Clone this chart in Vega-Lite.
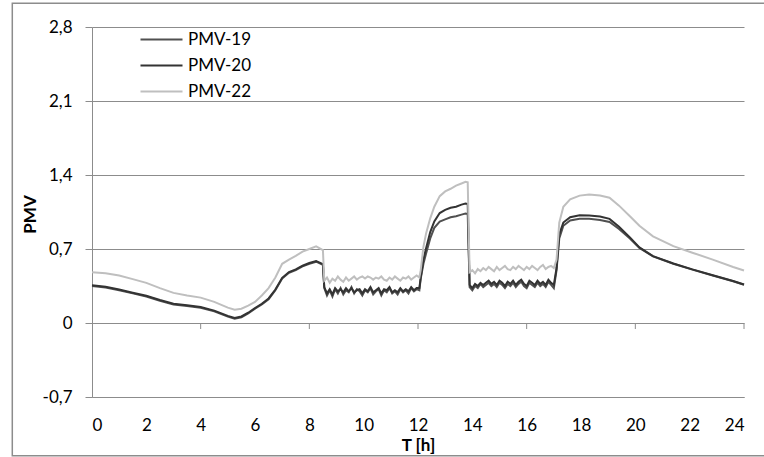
{
  "$schema": "https://vega.github.io/schema/vega-lite/v6.json",
  "width": 652,
  "height": 370,
  "autosize": {"type": "none"},
  "padding": {"left": 92, "top": 27, "right": 20, "bottom": 60},
  "background": "white",
  "config": {"view": {"stroke": null}, "font": "Lato"},
  "layer": [
    {
      "data": {"values": [{"id": 1}]},
      "mark": {"type": "rect", "fill": "white", "fillOpacity": 0, "stroke": "#8c8c8c", "strokeWidth": 1.5, "clip": false},
      "encoding": {
        "x": {"datum": -2.934, "type": "quantitative"},
        "x2": {"datum": 25.5},
        "y": {"datum": 3.025, "type": "quantitative"},
        "y2": {"datum": -1.255}
      }
    },
    {
      "data": {"values": [
        {"t": 0, "PMV-19": 0.35, "PMV-20": 0.357, "PMV-22": 0.48},
        {"t": 0.5, "PMV-19": 0.335, "PMV-20": 0.342, "PMV-22": 0.47},
        {"t": 1, "PMV-19": 0.31, "PMV-20": 0.317, "PMV-22": 0.45},
        {"t": 1.5, "PMV-19": 0.28, "PMV-20": 0.287, "PMV-22": 0.415},
        {"t": 2, "PMV-19": 0.25, "PMV-20": 0.257, "PMV-22": 0.38},
        {"t": 2.5, "PMV-19": 0.21, "PMV-20": 0.217, "PMV-22": 0.33},
        {"t": 3, "PMV-19": 0.175, "PMV-20": 0.182, "PMV-22": 0.285},
        {"t": 3.5, "PMV-19": 0.16, "PMV-20": 0.167, "PMV-22": 0.26},
        {"t": 4, "PMV-19": 0.145, "PMV-20": 0.152, "PMV-22": 0.24},
        {"t": 4.5, "PMV-19": 0.11, "PMV-20": 0.117, "PMV-22": 0.2},
        {"t": 5, "PMV-19": 0.06, "PMV-20": 0.067, "PMV-22": 0.145},
        {"t": 5.25, "PMV-19": 0.04, "PMV-20": 0.047, "PMV-22": 0.125},
        {"t": 5.5, "PMV-19": 0.055, "PMV-20": 0.062, "PMV-22": 0.135},
        {"t": 5.75, "PMV-19": 0.09, "PMV-20": 0.097, "PMV-22": 0.165},
        {"t": 6, "PMV-19": 0.135, "PMV-20": 0.142, "PMV-22": 0.2},
        {"t": 6.25, "PMV-19": 0.175, "PMV-20": 0.182, "PMV-22": 0.26},
        {"t": 6.5, "PMV-19": 0.225, "PMV-20": 0.232, "PMV-22": 0.33},
        {"t": 6.75, "PMV-19": 0.31, "PMV-20": 0.317, "PMV-22": 0.43},
        {"t": 7, "PMV-19": 0.42, "PMV-20": 0.427, "PMV-22": 0.56},
        {"t": 7.25, "PMV-19": 0.475, "PMV-20": 0.482, "PMV-22": 0.6},
        {"t": 7.5, "PMV-19": 0.5, "PMV-20": 0.507, "PMV-22": 0.635},
        {"t": 7.75, "PMV-19": 0.535, "PMV-20": 0.542, "PMV-22": 0.675},
        {"t": 8, "PMV-19": 0.56, "PMV-20": 0.567, "PMV-22": 0.7},
        {"t": 8.25, "PMV-19": 0.58, "PMV-20": 0.587, "PMV-22": 0.725},
        {"t": 8.5, "PMV-19": 0.55, "PMV-20": 0.557, "PMV-22": 0.69},
        {"t": 8.55, "PMV-19": 0.33, "PMV-20": 0.34, "PMV-22": 0.4},
        {"t": 8.65, "PMV-19": 0.26, "PMV-20": 0.28, "PMV-22": 0.43},
        {"t": 8.75, "PMV-19": 0.31, "PMV-20": 0.32, "PMV-22": 0.38},
        {"t": 8.85, "PMV-19": 0.25, "PMV-20": 0.27, "PMV-22": 0.42},
        {"t": 8.95, "PMV-19": 0.32, "PMV-20": 0.33, "PMV-22": 0.4},
        {"t": 9.05, "PMV-19": 0.28, "PMV-20": 0.3, "PMV-22": 0.44},
        {"t": 9.15, "PMV-19": 0.33, "PMV-20": 0.32, "PMV-22": 0.41},
        {"t": 9.25, "PMV-19": 0.27, "PMV-20": 0.29, "PMV-22": 0.39},
        {"t": 9.35, "PMV-19": 0.31, "PMV-20": 0.33, "PMV-22": 0.43},
        {"t": 9.45, "PMV-19": 0.29, "PMV-20": 0.3, "PMV-22": 0.4},
        {"t": 9.55, "PMV-19": 0.34, "PMV-20": 0.33, "PMV-22": 0.42},
        {"t": 9.65, "PMV-19": 0.28, "PMV-20": 0.29, "PMV-22": 0.44},
        {"t": 9.75, "PMV-19": 0.32, "PMV-20": 0.31, "PMV-22": 0.41},
        {"t": 9.85, "PMV-19": 0.3, "PMV-20": 0.32, "PMV-22": 0.43},
        {"t": 9.95, "PMV-19": 0.26, "PMV-20": 0.28, "PMV-22": 0.44},
        {"t": 10.05, "PMV-19": 0.31, "PMV-20": 0.32, "PMV-22": 0.42},
        {"t": 10.15, "PMV-19": 0.29, "PMV-20": 0.3, "PMV-22": 0.44},
        {"t": 10.25, "PMV-19": 0.33, "PMV-20": 0.34, "PMV-22": 0.43},
        {"t": 10.35, "PMV-19": 0.27, "PMV-20": 0.29, "PMV-22": 0.41},
        {"t": 10.45, "PMV-19": 0.3, "PMV-20": 0.31, "PMV-22": 0.43},
        {"t": 10.55, "PMV-19": 0.32, "PMV-20": 0.33, "PMV-22": 0.42},
        {"t": 10.65, "PMV-19": 0.26, "PMV-20": 0.28, "PMV-22": 0.44},
        {"t": 10.75, "PMV-19": 0.31, "PMV-20": 0.32, "PMV-22": 0.41},
        {"t": 10.85, "PMV-19": 0.29, "PMV-20": 0.31, "PMV-22": 0.4},
        {"t": 10.95, "PMV-19": 0.33, "PMV-20": 0.34, "PMV-22": 0.43},
        {"t": 11.05, "PMV-19": 0.28, "PMV-20": 0.29, "PMV-22": 0.41},
        {"t": 11.15, "PMV-19": 0.3, "PMV-20": 0.31, "PMV-22": 0.44},
        {"t": 11.25, "PMV-19": 0.27, "PMV-20": 0.29, "PMV-22": 0.42},
        {"t": 11.35, "PMV-19": 0.32, "PMV-20": 0.33, "PMV-22": 0.4},
        {"t": 11.45, "PMV-19": 0.29, "PMV-20": 0.3, "PMV-22": 0.43},
        {"t": 11.55, "PMV-19": 0.31, "PMV-20": 0.32, "PMV-22": 0.42},
        {"t": 11.65, "PMV-19": 0.28, "PMV-20": 0.3, "PMV-22": 0.44},
        {"t": 11.75, "PMV-19": 0.33, "PMV-20": 0.34, "PMV-22": 0.41},
        {"t": 11.85, "PMV-19": 0.3, "PMV-20": 0.31, "PMV-22": 0.43},
        {"t": 11.95, "PMV-19": 0.32, "PMV-20": 0.33, "PMV-22": 0.45},
        {"t": 12.05, "PMV-19": 0.31, "PMV-20": 0.33, "PMV-22": 0.43},
        {"t": 12.1, "PMV-19": 0.42, "PMV-20": 0.43, "PMV-22": 0.5},
        {"t": 12.2, "PMV-19": 0.56, "PMV-20": 0.6, "PMV-22": 0.72},
        {"t": 12.3, "PMV-19": 0.66, "PMV-20": 0.71, "PMV-22": 0.85},
        {"t": 12.45, "PMV-19": 0.8, "PMV-20": 0.86, "PMV-22": 0.99},
        {"t": 12.6, "PMV-19": 0.9, "PMV-20": 0.96, "PMV-22": 1.1},
        {"t": 12.8, "PMV-19": 0.96, "PMV-20": 1.04, "PMV-22": 1.2},
        {"t": 13, "PMV-19": 0.98, "PMV-20": 1.07, "PMV-22": 1.245},
        {"t": 13.2, "PMV-19": 1.0, "PMV-20": 1.09, "PMV-22": 1.27},
        {"t": 13.4, "PMV-19": 1.01, "PMV-20": 1.1, "PMV-22": 1.3},
        {"t": 13.6, "PMV-19": 1.025, "PMV-20": 1.12, "PMV-22": 1.32},
        {"t": 13.75, "PMV-19": 1.035, "PMV-20": 1.13, "PMV-22": 1.335},
        {"t": 13.83, "PMV-19": 1.03, "PMV-20": 1.125, "PMV-22": 1.33},
        {"t": 13.9, "PMV-19": 0.34, "PMV-20": 0.36, "PMV-22": 0.48},
        {"t": 14.0, "PMV-19": 0.31, "PMV-20": 0.33, "PMV-22": 0.5},
        {"t": 14.1, "PMV-19": 0.35, "PMV-20": 0.37, "PMV-22": 0.47},
        {"t": 14.2, "PMV-19": 0.33, "PMV-20": 0.35, "PMV-22": 0.51},
        {"t": 14.3, "PMV-19": 0.37, "PMV-20": 0.38, "PMV-22": 0.49},
        {"t": 14.4, "PMV-19": 0.34, "PMV-20": 0.36, "PMV-22": 0.52},
        {"t": 14.5, "PMV-19": 0.36, "PMV-20": 0.38, "PMV-22": 0.5},
        {"t": 14.6, "PMV-19": 0.38, "PMV-20": 0.4, "PMV-22": 0.53},
        {"t": 14.7, "PMV-19": 0.35, "PMV-20": 0.37, "PMV-22": 0.51},
        {"t": 14.8, "PMV-19": 0.37, "PMV-20": 0.39, "PMV-22": 0.49},
        {"t": 14.9, "PMV-19": 0.34, "PMV-20": 0.36, "PMV-22": 0.53},
        {"t": 15.0, "PMV-19": 0.38, "PMV-20": 0.4, "PMV-22": 0.5},
        {"t": 15.1, "PMV-19": 0.36, "PMV-20": 0.38, "PMV-22": 0.52},
        {"t": 15.2, "PMV-19": 0.33, "PMV-20": 0.35, "PMV-22": 0.54},
        {"t": 15.3, "PMV-19": 0.37, "PMV-20": 0.39, "PMV-22": 0.51},
        {"t": 15.4, "PMV-19": 0.35, "PMV-20": 0.37, "PMV-22": 0.5},
        {"t": 15.5, "PMV-19": 0.38, "PMV-20": 0.4, "PMV-22": 0.53},
        {"t": 15.6, "PMV-19": 0.34, "PMV-20": 0.36, "PMV-22": 0.51},
        {"t": 15.7, "PMV-19": 0.37, "PMV-20": 0.39, "PMV-22": 0.54},
        {"t": 15.8, "PMV-19": 0.39, "PMV-20": 0.41, "PMV-22": 0.52},
        {"t": 15.9, "PMV-19": 0.35, "PMV-20": 0.37, "PMV-22": 0.5},
        {"t": 16.0, "PMV-19": 0.33, "PMV-20": 0.35, "PMV-22": 0.53},
        {"t": 16.1, "PMV-19": 0.38, "PMV-20": 0.4, "PMV-22": 0.51},
        {"t": 16.2, "PMV-19": 0.36, "PMV-20": 0.38, "PMV-22": 0.54},
        {"t": 16.3, "PMV-19": 0.34, "PMV-20": 0.36, "PMV-22": 0.52},
        {"t": 16.4, "PMV-19": 0.38, "PMV-20": 0.4, "PMV-22": 0.5},
        {"t": 16.5, "PMV-19": 0.35, "PMV-20": 0.37, "PMV-22": 0.53},
        {"t": 16.6, "PMV-19": 0.37, "PMV-20": 0.39, "PMV-22": 0.55},
        {"t": 16.7, "PMV-19": 0.34, "PMV-20": 0.36, "PMV-22": 0.51},
        {"t": 16.8, "PMV-19": 0.39, "PMV-20": 0.41, "PMV-22": 0.53},
        {"t": 16.9, "PMV-19": 0.36, "PMV-20": 0.38, "PMV-22": 0.54},
        {"t": 17.0, "PMV-19": 0.33, "PMV-20": 0.36, "PMV-22": 0.52},
        {"t": 17.1, "PMV-19": 0.5, "PMV-20": 0.52, "PMV-22": 0.6},
        {"t": 17.2, "PMV-19": 0.8, "PMV-20": 0.84, "PMV-22": 0.95},
        {"t": 17.35, "PMV-19": 0.92, "PMV-20": 0.95, "PMV-22": 1.1},
        {"t": 17.6, "PMV-19": 0.97, "PMV-20": 1.0, "PMV-22": 1.17},
        {"t": 17.95, "PMV-19": 0.985, "PMV-20": 1.02, "PMV-22": 1.205},
        {"t": 18.3, "PMV-19": 0.985, "PMV-20": 1.017, "PMV-22": 1.215},
        {"t": 18.7, "PMV-19": 0.975, "PMV-20": 1.008, "PMV-22": 1.205},
        {"t": 19.05, "PMV-19": 0.955, "PMV-20": 0.985, "PMV-22": 1.185},
        {"t": 19.4, "PMV-19": 0.89, "PMV-20": 0.91, "PMV-22": 1.11},
        {"t": 19.8, "PMV-19": 0.8, "PMV-20": 0.81, "PMV-22": 1.01},
        {"t": 20.15, "PMV-19": 0.71, "PMV-20": 0.715, "PMV-22": 0.92},
        {"t": 20.65, "PMV-19": 0.63, "PMV-20": 0.633, "PMV-22": 0.82},
        {"t": 21.4, "PMV-19": 0.56, "PMV-20": 0.563, "PMV-22": 0.727},
        {"t": 22.1, "PMV-19": 0.505, "PMV-20": 0.507, "PMV-22": 0.665},
        {"t": 22.85, "PMV-19": 0.45, "PMV-20": 0.452, "PMV-22": 0.6},
        {"t": 23.6, "PMV-19": 0.395, "PMV-20": 0.397, "PMV-22": 0.53},
        {"t": 24, "PMV-19": 0.362, "PMV-20": 0.364, "PMV-22": 0.497}
      ]},
      "transform": [{"fold": ["PMV-19", "PMV-20", "PMV-22"], "as": ["series", "pmv"]}],
      "mark": {"type": "line", "strokeWidth": 2, "clip": false},
      "encoding": {
        "x": {
          "field": "t", "type": "quantitative",
          "scale": {"domain": [0, 24], "nice": false, "zero": false},
          "axis": {
            "title": "T [h]",
            "values": [0, 2, 4, 6, 8, 10, 12, 14, 16, 18, 20, 22, 24],
            "format": "d",
            "grid": false,
            "ticks": false,
            "domainColor": "#8c8c8c",
            "domainWidth": 1,
            "labelPadding": 20,
            "labelFont": "Lato",
            "labelFontSize": 17,
            "labelColor": "#000000",
            "titleFont": "Lato",
            "titleFontSize": 17,
            "titleFontWeight": "bold",
            "titleColor": "#000000",
            "titleY": 53,
            "titleBaseline": "alphabetic"
          }
        },
        "y": {
          "field": "pmv", "type": "quantitative",
          "scale": {"domain": [-0.7, 2.8], "nice": false, "zero": false},
          "axis": {
            "title": "PMV",
            "values": [-0.7, 0, 0.7, 1.4, 2.1, 2.8],
            "labelExpr": "datum.value == 0 ? '0' : replace(replace(format(datum.value, '.1f'), '.', ','), '\u2212', '-')",
            "grid": true,
            "gridColor": "#8c8c8c",
            "gridWidth": 1,
            "domainColor": "#8c8c8c",
            "tickColor": "#8c8c8c",
            "tickSize": 7,
            "labelPadding": 13,
            "labelFont": "Lato",
            "labelFontSize": 17,
            "labelColor": "#000000",
            "titleFont": "Lato",
            "titleFontSize": 17,
            "titleFontWeight": "bold",
            "titleColor": "#000000",
            "titleX": -62,
            "titleY": 187,
            "titleAngle": 270,
            "titleBaseline": "middle",
            "titleAlign": "center"
          }
        },
        "color": {
          "field": "series", "type": "nominal",
          "scale": {"domain": ["PMV-19", "PMV-20", "PMV-22"], "range": ["#505050", "#333333", "#bfbfbf"]},
          "legend": {
            "title": null,
            "orient": "none",
            "legendX": 61,
            "legendY": 4,
            "padding": 0,
            "symbolType": "M-3,0H3",
            "symbolSize": 196,
            "symbolStrokeWidth": 2,
            "symbolFillColor": "transparent",
            "rowPadding": 8,
            "labelOffset": 18,
            "labelFont": "Lato",
            "labelFontSize": 17,
            "labelColor": "#000000"
          }
        }
      }
    },
    {
      "data": {"values": [{"t": 4}, {"t": 8}, {"t": 12}, {"t": 16}, {"t": 20}, {"t": 24}]},
      "mark": {"type": "rule", "color": "#8c8c8c", "strokeWidth": 1},
      "encoding": {
        "x": {"field": "t", "type": "quantitative"},
        "y": {"datum": 0, "type": "quantitative"},
        "y2": {"datum": -0.057}
      }
    }
  ]
}
